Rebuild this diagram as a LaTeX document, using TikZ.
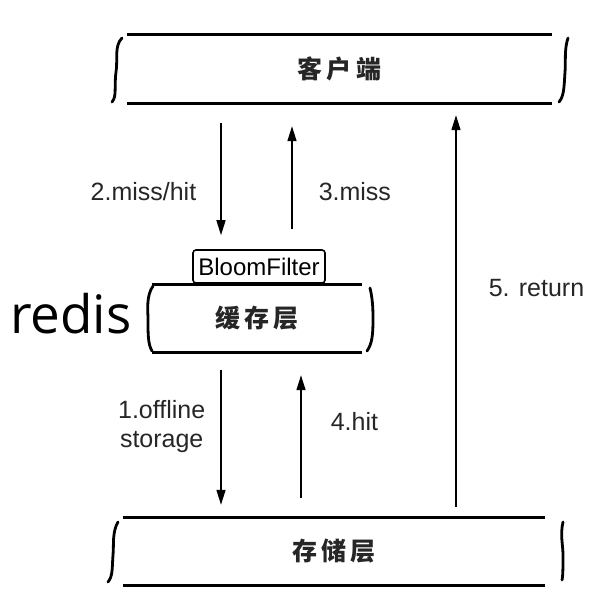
\documentclass[tikz,border=0pt]{standalone}
\usepackage{fontspec}
\setmainfont{Liberation Sans}
\newfontfamily\cjk{Noto Sans CJK SC}
\newfontfamily\redisfont{Open Sans}
\usetikzlibrary{arrows.meta}

\begin{document}
\begin{tikzpicture}[x=1pt, y=-1pt,
    layer/.style={inner sep=0pt, font=\cjk\bfseries\fontsize{25}{28}\selectfont, text=black!85},
    rail/.style={line width=3pt},
    curl/.style={line width=2.8pt, line cap=round},
    flow/.style={line width=1.5pt, -{Triangle[length=15pt, width=9pt]}},
    steplabel/.style={inner sep=0pt, text=black!85, font=\fontsize{25}{29}\selectfont}]

  \useasboundingbox (0,0) rectangle (611,614);

  % --- layers ---
  \node[layer, minimum width=425pt, minimum height=68pt] (client) at (339.5,69) {客\,户\,端};
  \node[layer, minimum width=210pt, minimum height=67pt] (cache) at (257,318.5) {缓\,存\,层};
  \node[layer, minimum width=422pt, minimum height=67pt] (store) at (334,551.5) {存\,储\,层};

  \node[draw, line width=1.6pt, rounded corners=3pt, minimum width=132pt, minimum height=33pt,
        inner sep=0pt, font=\fontsize{24}{28}\selectfont] (bloom) at (259,266.5) {BloomFilter};
  \node[anchor=base west, inner sep=0pt, font=\redisfont\fontsize{53}{60}\selectfont] (redis) at (10,333) {redis};

  % --- rails ---
  \draw[rail] (client.north west) -- (client.north east);
  \draw[rail] (client.south west) -- (client.south east);
  \draw[rail] (cache.north west) -- (cache.north east);
  \draw[rail] (cache.south west) -- (cache.south east);
  \draw[rail] (store.north west) -- (store.north east);
  \draw[rail] (store.south west) -- (store.south east);

  % --- side curls ---
  \draw[curl] (122,38) .. controls (114,46) and (118,60) .. (116,72) .. controls (114,88) and (117,96) .. (112,102);
  \draw[curl] (568,38) .. controls (564,50) and (566,62) .. (565,72) .. controls (564,88) and (564,96) .. (559,102);
  \draw[curl] (153,286) .. controls (146,296) and (148,310) .. (148,320) .. controls (148,335) and (148,344) .. (152,351);
  \draw[curl] (370,288) .. controls (373,300) and (373,312) .. (373,320) .. controls (373,335) and (372,344) .. (367,351);
  \draw[curl] (118,522) .. controls (112,532) and (114,545) .. (113,555) .. controls (112,568) and (113,576) .. (108,582);
  \draw[curl] (563,522) .. controls (560,535) and (563,545) .. (563,555) .. controls (563,566) and (563,576) .. (562,580);

  % --- columns for the flows ---
  \coordinate (down) at (221,0);
  \coordinate (miss) at (292,0);
  \coordinate (hit) at (301,0);
  \coordinate (ret) at (456,0);

  % --- flows ---
  \draw[flow, shorten <=20pt, shorten >=14pt] (client.south -| down) -- (bloom.north -| down)
        node[steplabel, pos=0.605, left=24pt] {2.miss/hit};
  \draw[flow, shorten <=20pt, shorten >=23pt] (bloom.north -| miss) -- (client.south -| miss)
        node[steplabel, pos=0.395, right=26pt] {3.miss};
  \draw[flow, shorten <=18pt, shorten >=13pt] (cache.south -| down) -- (store.north -| down)
        node[steplabel, pos=0.45, left=15pt, align=center] {1.offline\\storage};
  \draw[flow, shorten <=20pt, shorten >=23pt] (store.north -| hit) -- (cache.south -| hit)
        node[steplabel, pos=0.58, right=29pt] {4.hit};
  \draw[flow, shorten <=11pt, shorten >=12pt] (store.north -| ret) -- (client.south -| ret)
        node[steplabel, pos=0.554, right=32pt] {5. return};

\end{tikzpicture}
\end{document}
